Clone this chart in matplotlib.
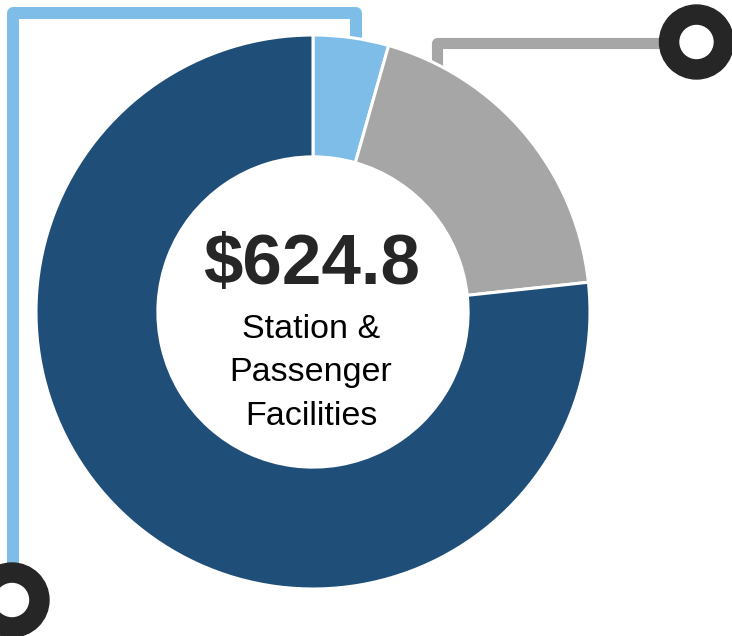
import matplotlib.pyplot as plt
from matplotlib.patches import Circle

plt.rcParams['font.family'] = ['Liberation Sans', 'DejaVu Sans']

# funding split (share of $624.8)
segments = ["Segment A", "Segment B", "Segment C"]
values = [27.5, 118.0, 479.3]
colors = ["#7dbde8", "#a6a6a6", "#1f4e79"]

total_label = "$624.8"
title_lines = ["Station &", "Passenger", "Facilities"]

W, H = 732, 636


def py(y):
    # pixel-from-top -> data y
    return H - y


fig = plt.figure(figsize=(W / 100, H / 100), dpi=100)
ax = fig.add_axes([0, 0, 1, 1])
ax.set_xlim(0, W)
ax.set_ylim(0, H)
ax.set_aspect("equal")
ax.axis("off")

cx, cy, r = 313, 312, 277

# connector lines (behind the donut)
ax.plot([355.5, 355.5, 13, 13], [py(60), py(13), py(13), py(590)],
        color=colors[0], lw=8.6, solid_joinstyle="round", solid_capstyle="butt", zorder=1)
ax.plot([436.5, 436.5, 690], [py(80), py(42.5), py(42.5)],
        color=colors[1], lw=8.0, solid_joinstyle="round", solid_capstyle="butt", zorder=1)

ax.pie(values, colors=colors, startangle=90, counterclock=False,
       center=(cx, py(cy)), radius=r,
       wedgeprops=dict(width=r * 0.44, edgecolor="white", linewidth=2.2),
       frame=True)
ax.set_xlim(0, W)
ax.set_ylim(0, H)
ax.axis("off")

# end markers
for (mx, my) in [(12, 600), (696.5, 42)]:
    ax.add_patch(Circle((mx, py(my)), 37, color="#262626", zorder=5))
    ax.add_patch(Circle((mx, py(my)), 16.5, color="white", zorder=6))

ax.text(311, py(284), total_label, ha="center", va="baseline",
        fontsize=51, fontweight="bold", color="#262626")
for i, line in enumerate(title_lines):
    ax.text(311, py(338 + 43.5 * i), line, ha="center", va="baseline",
            fontsize=24.5, color="black")

fig.savefig("out.png", dpi=100)
